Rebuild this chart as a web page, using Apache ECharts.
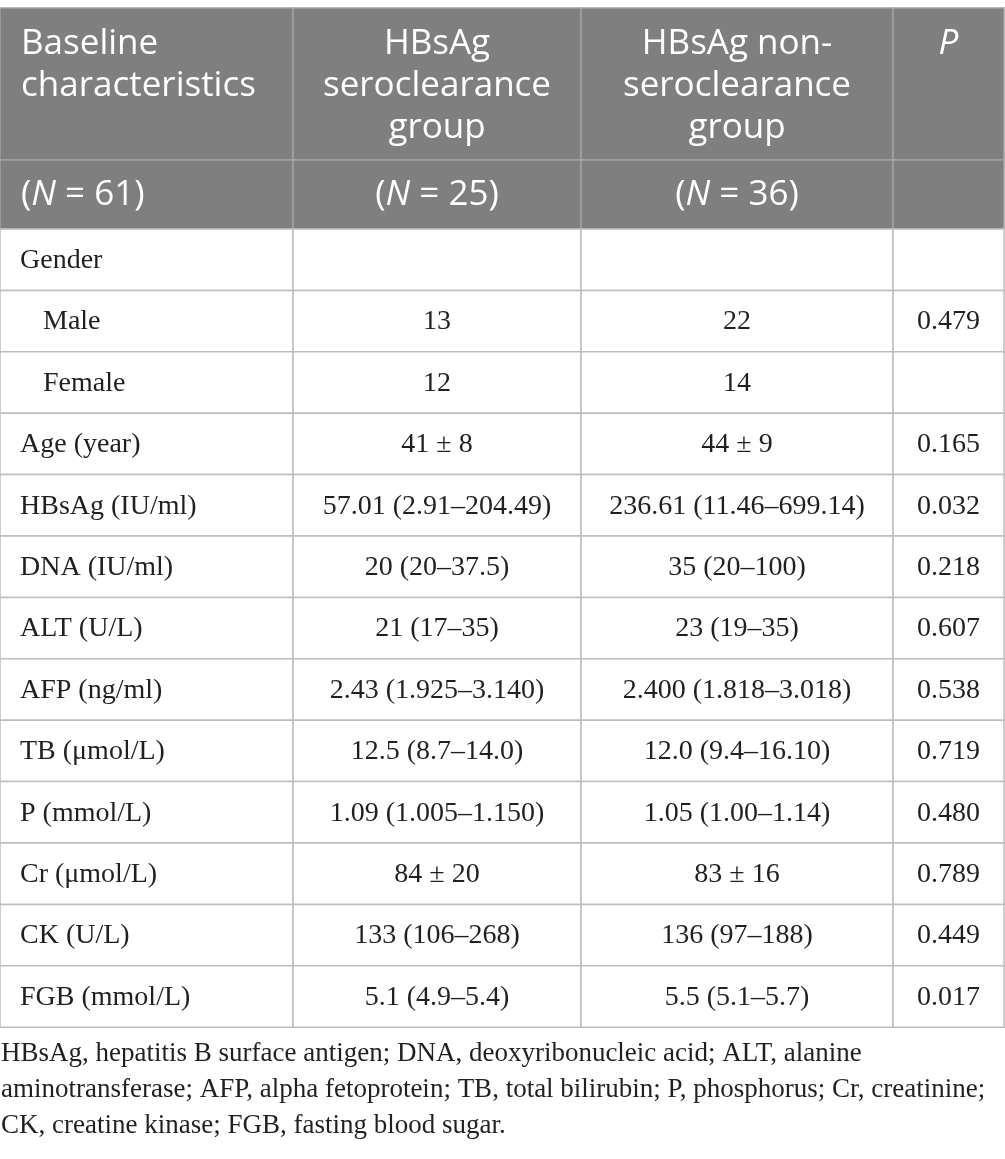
<!DOCTYPE html>
<html>
<head>
<meta charset="utf-8">
<title>Baseline characteristics</title>
<script src="https://cdn.jsdelivr.net/npm/echarts@6/dist/echarts.min.js"></script>
<style>
  html, body { margin: 0; padding: 0; background: #fff; }
  #main { width: 1005px; height: 1159px; }
</style>
</head>
<body>
<div id="main"></div>
<script>
// 表头文字
var headTitles = ['Baseline\ncharacteristics', 'HBsAg\nseroclearance\ngroup', 'HBsAg non-\nseroclearance\ngroup', 'P'];
var headCounts = ['61', '25', '36', ''];

// 表格内容 (每行一个指标)
var rowNames = ['Gender', 'Male', 'Female', 'Age (year)', 'HBsAg (IU/ml)', 'DNA (IU/ml)', 'ALT (U/L)',
  'AFP (ng/ml)', 'TB (μmol/L)', 'P (mmol/L)', 'Cr (μmol/L)', 'CK (U/L)', 'FGB (mmol/L)'];
var subRows = ['Male', 'Female'];
var clearanceVals = ['', '13', '12', '41 ± 8', '57.01 (2.91–204.49)', '20 (20–37.5)', '21 (17–35)',
  '2.43 (1.925–3.140)', '12.5 (8.7–14.0)', '1.09 (1.005–1.150)', '84 ± 20', '133 (106–268)', '5.1 (4.9–5.4)'];
var nonClearanceVals = ['', '22', '14', '44 ± 9', '236.61 (11.46–699.14)', '35 (20–100)', '23 (19–35)',
  '2.400 (1.818–3.018)', '12.0 (9.4–16.10)', '1.05 (1.00–1.14)', '83 ± 16', '136 (97–188)', '5.5 (5.1–5.7)'];
var pVals = ['', '0.479', '', '0.165', '0.032', '0.218', '0.607', '0.538', '0.719', '0.480', '0.789', '0.449', '0.017'];

var footLines = [
  'HBsAg, hepatitis B surface antigen; DNA, deoxyribonucleic acid; ALT, alanine',
  'aminotransferase; AFP, alpha fetoprotein; TB, total bilirubin; P, phosphorus; Cr, creatinine;',
  'CK, creatine kinase; FGB, fasting blood sugar.'
];

// 布局 (坐标轴单位 = 像素)
var colEdges = [0, 293, 581, 893, 1004];
var rowEdges = [8, 160, 229];
for (var i = 1; i <= rowNames.length; i++) rowEdges.push(229 + i * 61.4);

var HEAD_FONT = '"Open Sans", "Noto Sans", sans-serif';
var BODY_FONT = '"Liberation Serif", "DejaVu Serif", serif';

// 组装单元格
var cells = [];
headTitles.forEach(function (t, c) { cells.push({ value: [c, 0], text: t }); });
headCounts.forEach(function (n, c) {
  cells.push({ value: [c, 1], text: n ? '({i|N} = ' + n + ')' : '' });
});
rowNames.forEach(function (name, r) {
  var cols = [name, clearanceVals[r], nonClearanceVals[r], pVals[r]];
  cols.forEach(function (t, c) { cells.push({ value: [c, r + 2], text: t }); });
});

function renderCell(params, api) {
  var c = api.value(0), r = api.value(1);
  var cell = cells[params.dataIndex];
  var p0 = api.coord([colEdges[c], rowEdges[r]]);
  var p1 = api.coord([colEdges[c + 1], rowEdges[r + 1]]);
  var head = r < 2;
  var left = c === 0;
  var tx, ty, style;
  if (head) {
    style = {
      text: cell.text, fill: '#fff', fontFamily: HEAD_FONT, fontSize: 35, lineHeight: 42,
      fontStyle: c === 3 ? 'italic' : 'normal',
      align: left ? 'left' : 'center',
      verticalAlign: r === 0 ? 'top' : 'middle',
      rich: { i: { fontStyle: 'italic', fontFamily: HEAD_FONT, fontSize: 35, fill: '#fff' } }
    };
    tx = left ? p0[0] + 21 : (p0[0] + p1[0]) / 2;
    ty = r === 0 ? p0[1] + 15 : (p0[1] + p1[1]) / 2 + 1;
  } else {
    var indent = subRows.indexOf(cell.text) >= 0 && left;
    style = {
      text: cell.text, fill: '#231f20', fontFamily: BODY_FONT, fontSize: 28,
      align: left ? 'left' : 'center', verticalAlign: 'middle'
    };
    tx = left ? p0[0] + (indent ? 43 : 20) : (p0[0] + p1[0]) / 2;
    ty = (p0[1] + p1[1]) / 2 + 1;
  }
  return {
    type: 'group',
    children: [{
      type: 'rect',
      shape: { x: p0[0], y: p0[1], width: p1[0] - p0[0], height: p1[1] - p0[1] },
      style: { fill: head ? '#7f7f7f' : '#fff', stroke: head ? '#a3a3a3' : '#bdbdbd', lineWidth: 1.5 }
    }, {
      type: 'text', x: tx, y: ty, style: style
    }]
  };
}

var chart = echarts.init(document.getElementById('main'));
chart.setOption({
  animation: false,
  grid: { left: 0, right: 0, top: 0, bottom: 0 },
  xAxis: { type: 'value', min: 0, max: 1005, show: false },
  yAxis: { type: 'value', min: 0, max: 1159, inverse: true, show: false },
  series: [{
    type: 'custom',
    silent: true,
    clip: false,
    renderItem: renderCell,
    data: cells
  }],
  graphic: [{
    type: 'text', left: 1, top: 1036,
    style: {
      text: footLines.join('\n'), fill: '#231f20',
      fontFamily: BODY_FONT, fontSize: 27, lineHeight: 36
    }
  }]
});
</script>
</body>
</html>
